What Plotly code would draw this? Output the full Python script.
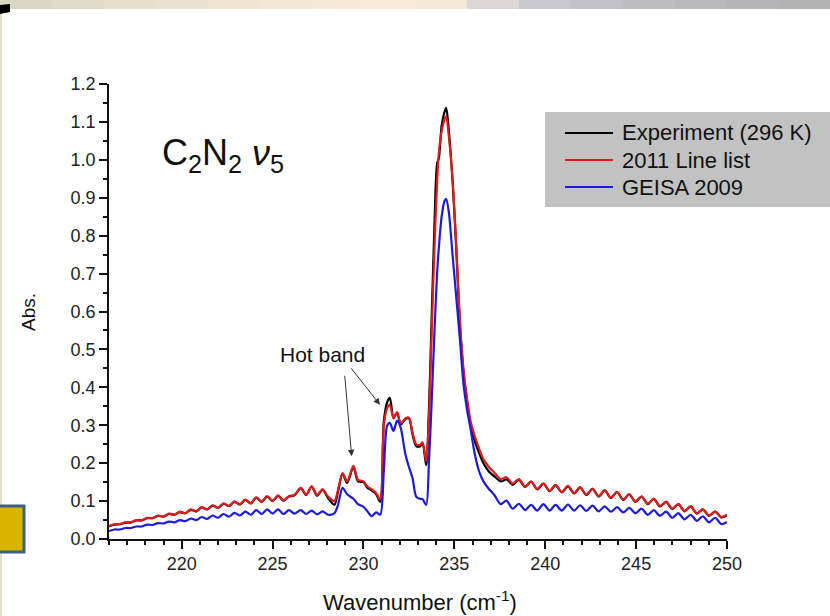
import plotly.graph_objects as go

# ---------------------------------------------------------------------------
# Spectral data: wavenumber grid (cm^-1) and absorbance for each trace
# ---------------------------------------------------------------------------
wavenumber = [
    # low-wavenumber P-branch ripples
    216.0, 216.3, 216.6, 216.9, 217.2, 217.5, 217.8, 218.1, 218.4, 218.7,
    219.0, 219.3, 219.6, 219.9, 220.2, 220.5, 220.8, 221.1, 221.4, 221.7,
    222.0, 222.3, 222.6, 222.9, 223.2, 223.5, 223.8, 224.1, 224.4, 224.7,
    225.0, 225.3, 225.6, 225.9,
    # hot band + Q branch
    226.2, 226.55, 226.85, 227.15, 227.45, 227.75, 228.05, 228.4, 228.6, 228.85,
    229.1, 229.45, 229.7, 230.0, 230.2, 230.45, 230.7, 230.92, 231.12, 231.3,
    231.45, 231.65, 231.85, 232.05, 232.3, 232.5, 232.7, 232.9, 233.1, 233.25,
    233.45, 233.6, 233.75, 233.9, 234.05, 234.15, 234.3, 234.45, 234.55, 234.7,
    234.9, 235.1, 235.3, 235.5, 235.7, 235.9, 236.1, 236.35, 236.6, 236.9,
    237.2, 237.55,
    # R-branch ripples
    237.87, 238.21, 238.55, 238.89, 239.22, 239.56, 239.90, 240.24, 240.57, 240.91,
    241.25, 241.59, 241.92, 242.26, 242.60, 242.94, 243.27, 243.61, 243.95, 244.29,
    244.62, 244.96, 245.30, 245.64, 245.97, 246.31, 246.65, 246.99, 247.32, 247.66,
    248.00, 248.34, 248.67, 249.01, 249.35, 249.69, 250.00,
]

abs_experiment = [
    0.034, 0.038, 0.039, 0.043, 0.044, 0.049, 0.049, 0.055, 0.055, 0.061,
    0.059, 0.066, 0.064, 0.071, 0.068, 0.077, 0.073, 0.083, 0.078, 0.088,
    0.082, 0.093, 0.087, 0.098, 0.091, 0.103, 0.094, 0.109, 0.098, 0.112,
    0.100, 0.114, 0.101, 0.112,
    0.115, 0.134, 0.116, 0.138, 0.114, 0.130, 0.108, 0.090, 0.125, 0.172,
    0.148, 0.190, 0.152, 0.150, 0.136, 0.128, 0.118, 0.098, 0.310, 0.360,
    0.372, 0.320, 0.333, 0.302, 0.316, 0.318, 0.276, 0.245, 0.244, 0.250,
    0.195, 0.340, 0.580, 0.820, 0.990, 1.005, 1.090, 1.125, 1.137, 1.075,
    0.945, 0.770, 0.570, 0.440, 0.360, 0.300, 0.262, 0.228, 0.200, 0.178,
    0.165, 0.152,
    0.157, 0.143, 0.156, 0.137, 0.151, 0.131, 0.146, 0.126, 0.142, 0.123,
    0.139, 0.120, 0.136, 0.116, 0.132, 0.112, 0.128, 0.108, 0.124, 0.103,
    0.118, 0.098, 0.112, 0.092, 0.106, 0.086, 0.098, 0.079, 0.092, 0.073,
    0.086, 0.067, 0.078, 0.061, 0.072, 0.057, 0.063,
]

abs_linelist_2011 = [
    0.034, 0.039, 0.039, 0.044, 0.044, 0.050, 0.049, 0.056, 0.055, 0.062,
    0.059, 0.067, 0.064, 0.072, 0.068, 0.078, 0.073, 0.084, 0.078, 0.089,
    0.082, 0.094, 0.087, 0.099, 0.091, 0.104, 0.094, 0.110, 0.098, 0.113,
    0.101, 0.115, 0.102, 0.113,
    0.116, 0.135, 0.117, 0.139, 0.116, 0.131, 0.112, 0.100, 0.130, 0.174,
    0.152, 0.193, 0.156, 0.152, 0.139, 0.131, 0.121, 0.104, 0.300, 0.345,
    0.354, 0.318, 0.335, 0.305, 0.318, 0.320, 0.280, 0.250, 0.248, 0.255,
    0.205, 0.320, 0.540, 0.760, 0.940, 1.020, 1.075, 1.105, 1.115, 1.060,
    0.950, 0.780, 0.580, 0.450, 0.370, 0.310, 0.275, 0.240, 0.210, 0.190,
    0.175, 0.158,
    0.163, 0.146, 0.158, 0.138, 0.152, 0.132, 0.146, 0.127, 0.142, 0.124,
    0.140, 0.121, 0.136, 0.117, 0.132, 0.113, 0.128, 0.109, 0.124, 0.104,
    0.118, 0.099, 0.112, 0.093, 0.106, 0.087, 0.098, 0.080, 0.092, 0.074,
    0.086, 0.068, 0.078, 0.062, 0.072, 0.058, 0.064,
]

abs_geisa_2009 = [
    0.021, 0.025, 0.025, 0.029, 0.029, 0.033, 0.033, 0.038, 0.037, 0.042,
    0.041, 0.046, 0.044, 0.050, 0.047, 0.054, 0.050, 0.058, 0.053, 0.062,
    0.056, 0.066, 0.059, 0.069, 0.062, 0.072, 0.064, 0.076, 0.066, 0.078,
    0.067, 0.078, 0.066, 0.076,
    0.067, 0.076, 0.066, 0.075, 0.065, 0.073, 0.064, 0.068, 0.090, 0.135,
    0.118, 0.106, 0.092, 0.085, 0.074, 0.060, 0.070, 0.064, 0.180, 0.298,
    0.306, 0.285, 0.312, 0.293, 0.225, 0.190, 0.160, 0.112, 0.106, 0.105,
    0.090, 0.200, 0.360, 0.540, 0.700, 0.770, 0.850, 0.890, 0.897, 0.860,
    0.750, 0.640, 0.530, 0.410, 0.340, 0.288, 0.230, 0.180, 0.152, 0.132,
    0.116, 0.092,
    0.101, 0.080, 0.093, 0.076, 0.090, 0.075, 0.092, 0.075, 0.090, 0.075,
    0.091, 0.075, 0.089, 0.074, 0.088, 0.073, 0.086, 0.072, 0.084, 0.070,
    0.082, 0.068, 0.080, 0.064, 0.076, 0.061, 0.072, 0.056, 0.068, 0.052,
    0.064, 0.048, 0.060, 0.044, 0.056, 0.039, 0.045,
]

series_names = ["Experiment (296 K)", "2011 Line list", "GEISA 2009"]
series_colors = ["#000000", "#e01b1b", "#1b1bdc"]

x_ticks = [220, 225, 230, 235, 240, 245, 250]
y_ticks = [0.0, 0.1, 0.2, 0.3, 0.4, 0.5, 0.6, 0.7, 0.8, 0.9, 1.0, 1.1, 1.2]

# ---------------------------------------------------------------------------
# Page geometry (pixels) for the plotting area
# ---------------------------------------------------------------------------
W, H = 830, 616
PL, PR, PT, PB = 109, 727, 84, 539
FONT = "Liberation Sans, Arial, sans-serif"


def px(xpix):
    return (xpix - PL) / (PR - PL)


def py(ypix):
    return (PB - ypix) / (PB - PT)


fig = go.Figure()
for name, color, ys in zip(series_names, series_colors,
                           [abs_experiment, abs_linelist_2011, abs_geisa_2009]):
    fig.add_trace(go.Scatter(
        x=wavenumber, y=ys, name=name, mode="lines",
        line=dict(color=color, width=2.2, shape="spline", smoothing=0.8),
        showlegend=False,
    ))

shapes = []

# slide header strip
strip_colors = ["#dcd6c4", "#e0dac8", "#e5dfcc", "#e9e2d0", "#eee6d2", "#f1e8d4",
                "#f4ead6", "#f5ebd6", "#f3e9d5", "#ddd8d6", "#c9c7d0", "#c2c1c8",
                "#bdbdc2", "#b9b9bc", "#b5b5b7", "#b3b3b3"]
seg = W / len(strip_colors)
for i, c in enumerate(strip_colors):
    shapes.append(dict(type="rect", xref="paper", yref="paper",
                       x0=px(i * seg), x1=px((i + 1) * seg + 1),
                       y0=py(0), y1=py(9), fillcolor=c, line=dict(width=0),
                       layer="above"))
# left edge rule and corner mark
shapes.append(dict(type="rect", xref="paper", yref="paper",
                   x0=px(0), x1=px(2), y0=py(9), y1=py(H),
                   fillcolor="#e6dfcc", line=dict(width=0)))
shapes.append(dict(type="path", xref="paper", yref="paper",
                   path=(f"M {px(0)},{py(5)} L {px(10)},{py(4)} L {px(10)},{py(12)} "
                         f"L {px(0)},{py(14)} Z"),
                   fillcolor="#000000", line=dict(width=0)))
# yellow navigation box
shapes.append(dict(type="rect", xref="paper", yref="paper",
                   x0=px(-6), x1=px(24), y0=py(506), y1=py(552),
                   fillcolor="#d6b400", line=dict(color="#3f5f86", width=3)))

# legend panel
shapes.append(dict(type="rect", xref="paper", yref="paper",
                   x0=px(545), x1=px(840), y0=py(112), y1=py(207),
                   fillcolor="#c2c2c2", line=dict(width=0), layer="below"))
legend_rows = [133, 160, 187]
annotations = []
for yrow, name, color in zip(legend_rows, series_names, series_colors):
    shapes.append(dict(type="line", xref="paper", yref="paper",
                       x0=px(565), x1=px(613), y0=py(yrow), y1=py(yrow),
                       line=dict(color=color, width=2)))
    annotations.append(dict(text=name, xref="paper", yref="paper",
                            x=px(620), y=py(yrow), xanchor="left", yanchor="middle",
                            showarrow=False, font=dict(family=FONT, size=22, color="#111111")))

# molecule / band label
annotations.append(dict(text="C<sub>2</sub>N<sub>2</sub> <i>ν</i><sub>5</sub>",
                        xref="paper", yref="paper", x=px(160), y=py(155),
                        xanchor="left", yanchor="middle", showarrow=False,
                        font=dict(family=FONT, size=36, color="#111111")))

# hot band label with arrows
annotations.append(dict(text="Hot band", x=227.72, y=0.486, xref="x", yref="y",
                        xanchor="center", yanchor="middle",
                        showarrow=False, font=dict(family=FONT, size=21, color="#111111")))
annotations.append(dict(text="", x=229.35, y=0.218, xref="x", yref="y",
                        ax=-7, ay=-82, showarrow=True, arrowhead=2, arrowsize=1.3,
                        arrowwidth=1, arrowcolor="#333333"))
annotations.append(dict(text="", x=230.91, y=0.354, xref="x", yref="y",
                        ax=-30, ay=-38, showarrow=True, arrowhead=2, arrowsize=1.3,
                        arrowwidth=1, arrowcolor="#333333"))

# axis titles
annotations.append(dict(text="Abs.", xref="paper", yref="paper", x=px(28), y=py(312),
                        xanchor="center", yanchor="middle",
                        textangle=-90, showarrow=False,
                        font=dict(family=FONT, size=19, color="#111111")))
annotations.append(dict(text="Wavenumber (cm<sup>-1</sup>)", xref="paper", yref="paper",
                        x=px(420), y=py(601), xanchor="center", yanchor="middle",
                        showarrow=False,
                        font=dict(family=FONT, size=22, color="#111111")))

axis_common = dict(
    showline=True, linecolor="#111111", linewidth=1.6, mirror=False,
    ticks="outside", ticklen=8, tickwidth=1.5, tickcolor="#111111",
    showgrid=False, zeroline=False,
    tickfont=dict(family=FONT, size=18, color="#222222"),
)

fig.update_layout(
    width=W, height=H,
    margin=dict(l=PL, r=W - PR, t=PT, b=H - PB, pad=0),
    paper_bgcolor="#ffffff", plot_bgcolor="#ffffff",
    font=dict(family=FONT),
    shapes=shapes, annotations=annotations,
    xaxis=dict(range=[216, 250], tickmode="array", tickvals=x_ticks,
               ticktext=[str(v) for v in x_ticks],
               minor=dict(tickmode="linear", tick0=216, dtick=1, ticks="outside",
                          ticklen=4, tickwidth=1.5, tickcolor="#111111", showgrid=False),
               **axis_common),
    yaxis=dict(range=[0, 1.2], tickmode="array", tickvals=y_ticks,
               ticktext=[f"{v:.1f}" for v in y_ticks],
               minor=dict(tickmode="linear", tick0=0, dtick=0.05, ticks="outside",
                          ticklen=4, tickwidth=1.5, tickcolor="#111111", showgrid=False),
               **axis_common),
)

fig.write_html("out.html")
